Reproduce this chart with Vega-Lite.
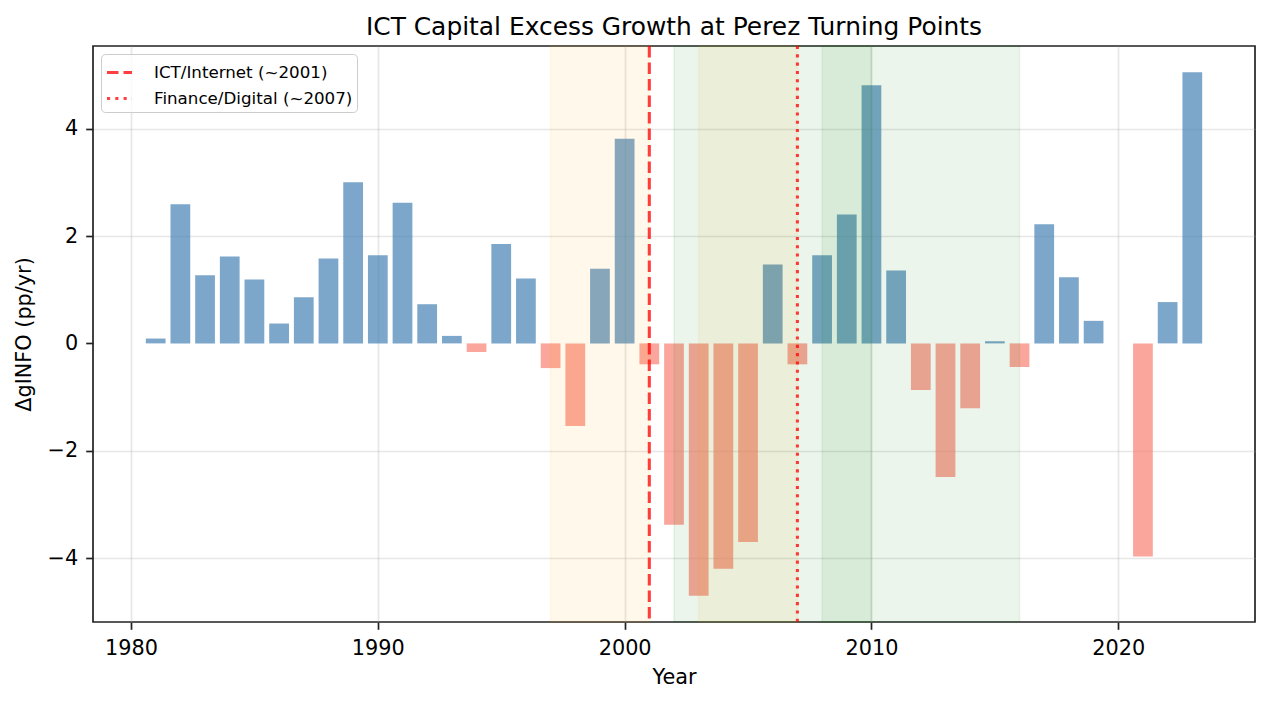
{
  "$schema": "https://vega.github.io/schema/vega-lite/v6.json",
  "width": 1162,
  "height": 576,
  "autosize": {"type": "none"},
  "padding": {"left": 93, "top": 46, "right": 15, "bottom": 79},
  "background": "white",
  "title": {
    "text": "ICT Capital Excess Growth at Perez Turning Points",
    "font": "DejaVu Sans",
    "fontSize": 24.9,
    "fontWeight": "normal",
    "color": "black",
    "baseline": "alphabetic",
    "frame": "group",
    "offset": 12.5,
    "dy": 28
  },
  "datasets": {
    "bars": [
      {"year": 1981, "value": 0.09},
      {"year": 1982, "value": 2.59},
      {"year": 1983, "value": 1.27},
      {"year": 1984, "value": 1.62},
      {"year": 1985, "value": 1.19},
      {"year": 1986, "value": 0.37},
      {"year": 1987, "value": 0.86},
      {"year": 1988, "value": 1.58},
      {"year": 1989, "value": 3.0},
      {"year": 1990, "value": 1.64},
      {"year": 1991, "value": 2.62},
      {"year": 1992, "value": 0.73},
      {"year": 1993, "value": 0.14},
      {"year": 1994, "value": -0.16},
      {"year": 1995, "value": 1.85},
      {"year": 1996, "value": 1.21},
      {"year": 1997, "value": -0.46},
      {"year": 1998, "value": -1.54},
      {"year": 1999, "value": 1.39},
      {"year": 2000, "value": 3.81},
      {"year": 2001, "value": -0.39},
      {"year": 2002, "value": -3.38},
      {"year": 2003, "value": -4.7},
      {"year": 2004, "value": -4.2},
      {"year": 2005, "value": -3.7},
      {"year": 2006, "value": 1.47},
      {"year": 2007, "value": -0.39},
      {"year": 2008, "value": 1.64},
      {"year": 2009, "value": 2.4},
      {"year": 2010, "value": 4.81},
      {"year": 2011, "value": 1.36},
      {"year": 2012, "value": -0.87},
      {"year": 2013, "value": -2.49},
      {"year": 2014, "value": -1.21},
      {"year": 2015, "value": 0.04},
      {"year": 2016, "value": -0.44},
      {"year": 2017, "value": 2.22},
      {"year": 2018, "value": 1.23},
      {"year": 2019, "value": 0.42},
      {"year": 2021, "value": -3.97},
      {"year": 2022, "value": 0.77},
      {"year": 2023, "value": 5.05}
    ],
    "spans": [
      {"start": 1997, "end": 2001, "kind": "orange"},
      {"start": 2003, "end": 2007, "kind": "orange"},
      {"start": 2002, "end": 2010, "kind": "green"},
      {"start": 2008, "end": 2016, "kind": "green"}
    ],
    "turns": [
      {"year": 2001, "label": "ICT/Internet (~2001)"},
      {"year": 2007, "label": "Finance/Digital (~2007)"}
    ]
  },
  "layer": [
    {
      "data": {"name": "bars"},
      "mark": {"type": "bar", "width": 19.75, "fillOpacity": 0.7},
      "encoding": {
        "x": {
          "field": "year",
          "type": "quantitative",
          "title": "Year",
          "scale": {"domain": [1978.46, 2025.54], "nice": false, "zero": false, "padding": 0},
          "axis": {"values": [1980, 1990, 2000, 2010, 2020], "format": "d"}
        },
        "y": {
          "field": "value",
          "type": "quantitative",
          "title": "ΔgINFO (pp/yr)",
          "scale": {"domain": [-5.19, 5.54], "nice": false, "zero": false, "padding": 0},
          "axis": {
            "values": [-4, -2, 0, 2, 4],
            "gridColor": {"condition": {"test": "datum.value === 0", "value": "transparent"}, "value": "#b0b0b0"}
          }
        },
        "color": {
          "condition": {"test": "datum.value >= 0", "value": "#4682b4"},
          "value": "#fa8072"
        }
      }
    },
    {
      "data": {"name": "spans"},
      "mark": {"type": "rect", "fillOpacity": 0.08, "strokeOpacity": 0.08, "strokeWidth": 1.5},
      "encoding": {
        "x": {"field": "start", "type": "quantitative", "title": "Year"},
        "x2": {"field": "end"},
        "color": {
          "field": "kind",
          "type": "nominal",
          "scale": {"domain": ["orange", "green"], "range": ["#ffa500", "#008000"]},
          "legend": null
        },
        "stroke": {
          "field": "kind",
          "type": "nominal",
          "scale": {"domain": ["orange", "green"], "range": ["#ffa500", "#008000"]},
          "legend": null
        }
      }
    },
    {
      "mark": {"type": "rule", "color": "black", "strokeWidth": 1.1},
      "encoding": {"y": {"datum": 0, "type": "quantitative"}}
    },
    {
      "data": {"name": "turns"},
      "mark": {"type": "rule", "color": "#ff0000", "opacity": 0.75, "strokeWidth": 3.1},
      "encoding": {
        "x": {"field": "year", "type": "quantitative", "title": "Year"},
        "strokeDash": {
          "field": "label",
          "type": "nominal",
          "scale": {
            "domain": ["ICT/Internet (~2001)", "Finance/Digital (~2007)"],
            "range": [[11.5, 5], [3.1, 5.2]]
          },
          "legend": {
            "title": null,
            "orient": "top-left",
            "offset": 8,
            "padding": 4,
            "rowPadding": 2,
            "symbolType": "stroke",
            "symbolSize": 625,
            "symbolStrokeWidth": 3.1,
            "symbolStrokeColor": "#ff0000",
            "symbolOpacity": 0.75,
            "labelOffset": 20,
            "labelFont": "DejaVu Sans",
            "labelFontSize": 16.7,
            "labelColor": "black",
            "labelLimit": 400,
            "strokeColor": "#cccccc",
            "cornerRadius": 4,
            "fillColor": "rgba(255,255,255,0.8)"
          }
        }
      }
    }
  ],
  "config": {
    "view": {"stroke": "#222222", "strokeWidth": 1.7},
    "axis": {
      "labelFont": "DejaVu Sans",
      "labelFontSize": 20.8,
      "labelColor": "black",
      "titleFont": "DejaVu Sans",
      "titleFontSize": 20.8,
      "titleFontWeight": "normal",
      "titleColor": "black",
      "domain": false,
      "tickColor": "#222222",
      "tickWidth": 1.7,
      "tickSize": 7.3,
      "gridColor": "#b0b0b0",
      "gridOpacity": 0.3,
      "gridWidth": 1.7,
      "zindex": 1
    },
    "axisX": {"labelPadding": 9, "titlePadding": 9, "labelFlush": false},
    "axisY": {"labelPadding": 8, "titlePadding": 13}
  }
}
